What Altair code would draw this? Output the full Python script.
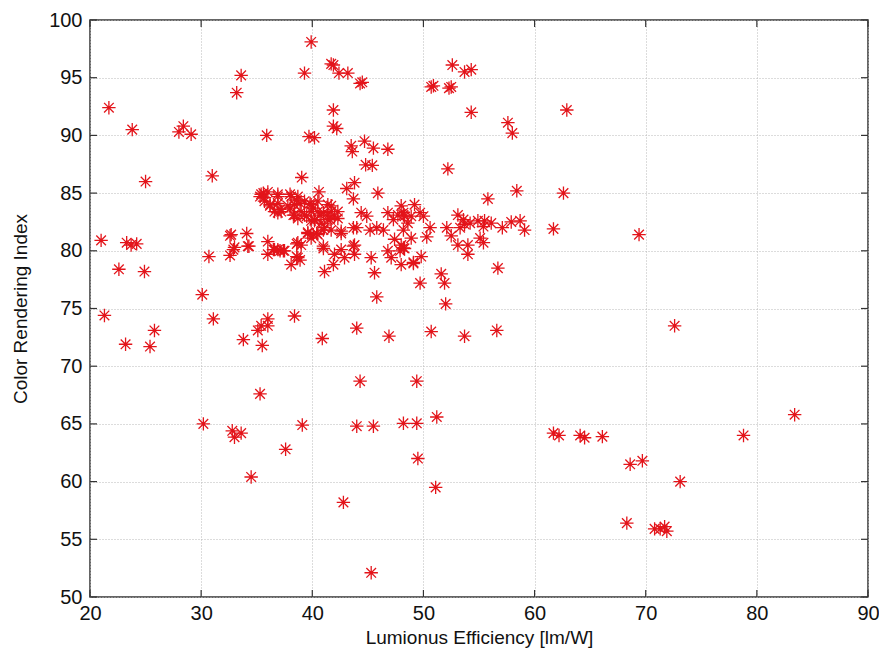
import altair as alt
import pandas as pd

# Lumionus efficiency [lm/W]
eff = [
    39.9, 33.6, 33.2, 39.3, 21.7, 23.8, 28.0, 28.4, 29.1, 35.9, 39.7, 40.2, 25.0, 31.0, 39.05,
    41.7, 41.9, 42.4, 43.2, 44.3, 44.5, 41.9, 41.9, 42.2, 43.5, 44.7, 45.5, 46.8, 43.6, 44.8, 45.4,
    52.2, 50.7, 50.9, 52.3, 52.5, 52.6, 53.7, 54.3, 54.3, 57.6, 58.0, 62.9,
    40.6, 43.1, 43.8, 43.7, 45.9, 55.8, 58.4, 62.6, 49.2, 48.0,
    35.4, 35.6, 36.0, 35.3, 35.7, 35.7, 36.9, 38.0, 38.7, 40.5, 36.2, 36.9, 37.2, 38.0, 38.4, 38.9,
    39.3, 39.8, 36.9, 38.3, 38.7, 39.3, 39.9, 40.7, 41.4, 41.7, 42.3, 41.4, 40.8, 39.9, 39.6, 40.4,
    41.1, 42.6, 43.7, 32.7, 34.1, 33.0, 34.2, 36.0, 36.5, 36.9, 37.4, 38.7, 38.6, 41.0, 42.6, 43.7,
    41.0, 41.4, 41.7, 42.0, 42.3, 40.1, 40.5, 40.2, 41.6, 40.1, 41.0, 41.7, 42.6, 44.0, 44.4, 44.9,
    45.2, 45.8, 46.4, 46.8, 47.3, 47.7, 48.2, 48.9, 48.6, 47.4, 48.0, 48.3, 48.9, 46.8, 47.1, 48.0,
    49.1, 41.0, 39.9, 39.0, 42.0, 41.9, 41.1, 42.9, 43.8, 43.8, 45.3, 45.6, 38.9,
    32.6, 32.9, 32.6, 34.3, 36.6, 37.1, 37.5, 38.6, 38.7, 38.1, 36.0,
    36.2, 36.9, 38.1, 38.6, 37.8, 38.4, 39.0, 39.5, 39.9, 40.2, 39.6, 40.5, 37.1, 36.6,
    48.2, 48.3, 49.7, 50.0, 50.6, 48.2, 50.3, 48.2, 47.9, 49.8, 49.1, 49.7, 51.6, 51.9, 56.7,
    53.1, 53.6, 53.7, 53.3, 54.2, 52.1, 54.9, 55.5, 56.1, 55.4, 55.1, 55.4, 52.5, 53.1, 54.0, 54.0,
    57.1, 57.9, 58.7, 59.1, 61.7, 69.4, 52.0, 45.8,
    21.0, 23.3, 23.7, 24.2, 22.6, 24.9, 30.1, 30.7,
    21.3, 23.2, 25.8, 25.4, 31.1, 33.8, 35.5, 35.1, 35.4, 36.0, 36.0, 38.4,
    40.9, 44.0, 46.9, 50.7, 53.7, 56.6, 72.6,
    35.3, 30.2, 32.8, 33.0, 33.6, 34.5, 37.6, 39.1, 44.3, 44.0, 45.5, 48.2, 49.4, 49.4, 49.5, 51.2,
    51.1, 42.8, 45.3,
    83.4, 78.8, 61.7, 62.2, 64.1, 64.5, 66.1, 68.6, 69.7, 73.1, 68.3, 70.8, 71.3, 71.7, 71.9,
]

# Color rendering index
cri = [
    98.1, 95.2, 93.7, 95.4, 92.4, 90.5, 90.3, 90.8, 90.1, 90.0, 89.9, 89.8, 86.0, 86.5, 86.35,
    96.2, 96.1, 95.4, 95.4, 94.5, 94.6, 92.2, 90.8, 90.6, 89.1, 89.5, 88.9, 88.8, 88.6, 87.45, 87.4,
    87.1, 94.2, 94.3, 94.1, 94.2, 96.1, 95.5, 95.7, 92.0, 91.1, 90.2, 92.2,
    85.1, 85.4, 85.9, 84.5, 85.0, 84.5, 85.2, 85.0, 84.0, 83.9,
    84.9, 85.0, 85.1, 84.7, 84.6, 84.3, 84.9, 84.9, 84.7, 84.3, 84.0, 84.1, 83.4, 83.7, 84.0, 84.1,
    84.3, 84.1, 83.3, 83.1, 82.8, 83.1, 83.4, 83.1, 84.0, 83.4, 82.8, 82.7, 82.4, 82.6, 81.5, 81.5,
    82.0, 81.5, 82.0, 81.4, 81.5, 80.3, 80.4, 80.8, 80.1, 80.1, 80.0, 80.7, 79.5, 80.4, 80.1, 80.4,
    83.3, 83.1, 83.9, 83.0, 83.4, 83.7, 83.4, 82.7, 82.7, 81.4, 81.8, 81.8, 81.7, 82.0, 83.3, 83.0,
    81.8, 82.0, 81.8, 83.3, 82.7, 83.1, 83.1, 83.0, 82.4, 81.0, 80.5, 80.2, 81.1, 80.0, 79.4, 78.8,
    79.0, 80.2, 81.1, 80.5, 79.7, 78.8, 78.2, 79.4, 79.7, 80.5, 79.4, 78.1, 79.2,
    81.3, 80.1, 79.6, 80.4, 80.1, 80.0, 80.0, 80.6, 79.4, 78.8, 79.7,
    83.9, 84.7, 84.7, 84.4, 83.9, 83.1, 83.4, 83.0, 84.0, 82.6, 81.6, 81.4, 83.6, 83.4,
    83.3, 83.0, 83.3, 83.0, 82.0, 81.8, 81.2, 80.25, 80.0, 79.5, 78.9, 77.2, 78.0, 77.2, 78.5,
    83.1, 82.7, 82.3, 82.0, 82.4, 82.0, 82.6, 82.6, 82.4, 82.1, 81.1, 80.7, 81.3, 80.5, 80.5, 79.7,
    82.0, 82.5, 82.6, 81.8, 81.9, 81.4, 75.4, 76.0,
    80.9, 80.7, 80.5, 80.6, 78.4, 78.2, 76.2, 79.5,
    74.4, 71.9, 73.1, 71.7, 74.1, 72.3, 71.8, 73.1, 73.5, 74.1, 73.5, 74.35,
    72.4, 73.3, 72.6, 73.0, 72.6, 73.1, 73.5,
    67.6, 65.0, 64.4, 63.85, 64.2, 60.4, 62.8, 64.9, 68.7, 64.8, 64.8, 65.05, 65.05, 68.7, 62.0, 65.6,
    59.5, 58.2, 52.1,
    65.8, 64.0, 64.2, 64.0, 64.0, 63.8, 63.9, 61.5, 61.8, 60.0, 56.4, 55.9, 55.9, 56.1, 55.7,
]

x_ticks = [20, 30, 40, 50, 60, 70, 80, 90]
y_ticks = [50, 55, 60, 65, 70, 75, 80, 85, 90, 95, 100]

W, H = 778, 577
FONT = "Liberation Sans"

df = pd.DataFrame({"eff": eff, "cri": cri})
dx = pd.DataFrame({"v": x_ticks})
dy = pd.DataFrame({"v": y_ticks})

xscale = alt.Scale(domain=[20, 90], nice=False, zero=False)
yscale = alt.Scale(domain=[50, 100], nice=False, zero=False)

asterisk = "M-1,0L1,0M0,-1L0,1M-0.72,-0.72L0.72,0.72M-0.72,0.72L0.72,-0.72"

points = alt.Chart(df).mark_point(
    shape=asterisk, filled=False, stroke="#e3141a", strokeWidth=1.3, size=180, opacity=1
).encode(
    x=alt.X("eff:Q", scale=xscale,
            axis=alt.Axis(values=x_ticks, title="Lumionus Efficiency [lm/W]",
                          titleY=40, titleBaseline="middle", labelFlush=False)),
    y=alt.Y("cri:Q", scale=yscale,
            axis=alt.Axis(values=y_ticks, title="Color Rendering Index",
                          titleX=-70, titleBaseline="middle", labelFlush=False)),
)

tick_color = "#333333"
yl = alt.Chart(dy).mark_rule(color=tick_color, strokeWidth=1.2).encode(
    y=alt.Y("v:Q", scale=yscale), x=alt.value(0), x2=alt.value(7))
yr = alt.Chart(dy).mark_rule(color=tick_color, strokeWidth=1.2).encode(
    y=alt.Y("v:Q", scale=yscale), x=alt.value(W - 7), x2=alt.value(W))
xb = alt.Chart(dx).mark_rule(color=tick_color, strokeWidth=1.2).encode(
    x=alt.X("v:Q", scale=xscale), y=alt.value(H), y2=alt.value(H - 7))
xt = alt.Chart(dx).mark_rule(color=tick_color, strokeWidth=1.2).encode(
    x=alt.X("v:Q", scale=xscale), y=alt.value(0), y2=alt.value(7))

chart = alt.layer(points, yl, yr, xb, xt).properties(
    width=W, height=H,
    autosize=alt.AutoSizeParams(type="none"),
    padding={"left": 82, "top": 12, "right": 11, "bottom": 52},
    background="white",
).configure_view(
    stroke="#333333", strokeWidth=1.5
).configure_axis(
    domain=False, ticks=False, grid=True,
    gridColor="#b8b8b8", gridDash=[1, 2], gridWidth=1,
    labelFont=FONT, labelFontSize=20, labelColor="#111111", labelPadding=8,
    titleFont=FONT, titleFontSize=19, titleFontWeight="normal", titleColor="#111111",
).configure_axisX(labelPadding=6)

chart.save("out.html", embed_options={"renderer": "svg", "actions": False})
